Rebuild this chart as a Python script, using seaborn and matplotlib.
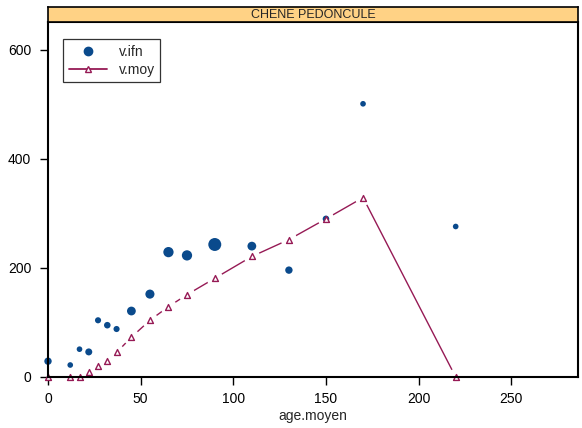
import matplotlib
matplotlib.use("Agg")
import matplotlib.pyplot as plt
from matplotlib.lines import Line2D
import numpy as np
import pandas as pd
import seaborn as sns

# Volumes observed (IFN) and mean-curve volumes by mean stand age
age_ifn = [0, 12, 17, 22, 27, 32, 37, 45, 55, 65, 75, 90, 110, 130, 150, 170, 220]
v_ifn = [29, 22, 51, 46, 104, 95, 88, 121, 152, 229, 223, 243, 240, 196, 290, 501, 276]
poids = [9, 5, 5, 8, 6, 7, 6, 13, 14, 18, 18, 29, 13, 9, 7, 5, 5]

age_moy = [0, 12, 17, 22, 27, 32, 37, 45, 55, 65, 75, 90, 110, 130, 150, 170, 220]
v_moy = [0, 0, 0, 10, 20, 29, 45, 73, 104, 129, 151, 181, 221, 252, 290, 329, 0]

essence = "CHENE PEDONCULE"

BLUE = "#0A4A8C"
WINE = "#961A55"
STRIP = "#FFD285"

sns.set_style("white")
plt.rcParams["font.family"] = ["Liberation Sans", "DejaVu Sans"]

df_ifn = pd.DataFrame({"age.moyen": age_ifn, "v.ifn": v_ifn, "poids": poids})
df_moy = pd.DataFrame({"age.moyen": age_moy, "v.moy": v_moy})

W, H = 582, 428
fig = plt.figure(figsize=(W / 100, H / 100), dpi=100)
ax = fig.add_axes([48 / W, 1 - 377 / H, 530 / W, (377 - 22) / H])
strip = fig.add_axes([48 / W, 1 - 22 / H, 530 / W, 15 / H])

# mean curve, drawn with gaps around each point (type "b")
sns.lineplot(data=df_moy, x="age.moyen", y="v.moy", ax=ax, color=WINE,
             linewidth=1.0, sort=False, zorder=2, legend=False)
ax.scatter(df_moy["age.moyen"], df_moy["v.moy"], s=140, color="white",
           edgecolor="none", zorder=3)

# observed volumes, marker area by weight
sns.scatterplot(data=df_ifn, x="age.moyen", y="v.ifn", size="poids",
                sizes=(5 * 3.3, 29 * 3.0), size_norm=(5, 29),
                color=BLUE, edgecolor="none", ax=ax, zorder=4,
                legend=False, clip_on=False)

# mean-curve points on top
sns.scatterplot(data=df_moy, x="age.moyen", y="v.moy", marker="^", s=18,
                facecolor="white", edgecolor=WINE, linewidth=1.0,
                ax=ax, zorder=5, legend=False, clip_on=False)

ax.set_xlim(0, 286)
ax.set_ylim(0, 651)
ax.set_xticks([0, 50, 100, 150, 200, 250])
ax.set_yticks([0, 200, 400, 600])
ax.set_xlabel("age.moyen", fontsize=10, labelpad=2)
ax.set_ylabel("")
ax.tick_params(axis="both", direction="out", length=6, width=1,
               labelsize=10, colors="black", bottom=True, left=True)
ax.tick_params(axis="x", pad=5)
ax.tick_params(axis="y", pad=6)
for sp in ax.spines.values():
    sp.set_visible(True)
    sp.set_color("black")
    sp.set_linewidth(1.5)
    sp.set_zorder(10)

handles = [
    Line2D([], [], linestyle="none", marker="o", markersize=6,
           markerfacecolor=BLUE, markeredgecolor=BLUE),
    Line2D([], [], color=WINE, linewidth=1.3, marker="^", markersize=4,
           markerfacecolor="white", markeredgecolor=WINE),
]
leg = ax.legend(handles, ["v.ifn", "v.moy"], loc="upper left",
                bbox_to_anchor=(15 / 530, 1 - 17 / 355), fontsize=10,
                frameon=True, fancybox=False, edgecolor="black",
                borderpad=0.4, handlelength=2.8, handletextpad=0.8,
                labelspacing=0.3, borderaxespad=0)
leg.get_frame().set_linewidth(0.9)

# panel strip
strip.set_facecolor(STRIP)
strip.set_xticks([])
strip.set_yticks([])
for sp in strip.spines.values():
    sp.set_visible(True)
    sp.set_color("black")
    sp.set_linewidth(1.2)
strip.text(0.5, 0.45, essence, ha="center", va="center", fontsize=9,
           transform=strip.transAxes)

fig.savefig("out.png", dpi=100)
